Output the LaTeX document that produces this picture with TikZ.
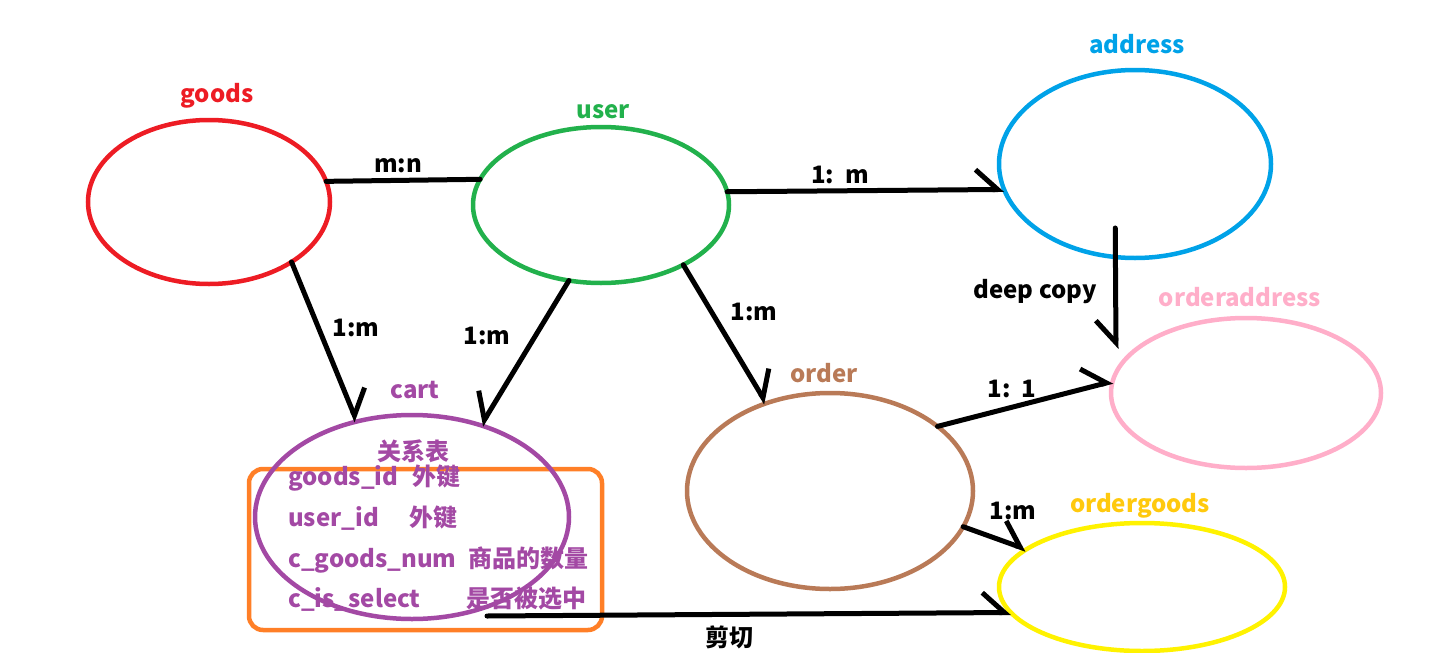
\documentclass[tikz,border=0pt]{standalone}
\usepackage{fontspec}
\setmainfont{Noto Sans CJK SC}
\usetikzlibrary{shapes.geometric, arrows.meta}
\definecolor{entred}{HTML}{ED1C24}
\definecolor{entgreen}{HTML}{22B14C}
\definecolor{entblue}{HTML}{00A2E8}
\definecolor{entpink}{HTML}{FFAEC9}
\definecolor{entbrown}{HTML}{B97A57}
\definecolor{entyellow}{HTML}{FFF200}
\definecolor{entgold}{HTML}{FFC90E}
\definecolor{entpurple}{HTML}{A349A4}
\definecolor{entorange}{HTML}{FF7F27}
\tikzset{
  entity/.style={
    ellipse,
    draw=#1,
    line width=4.5pt,
    inner sep=0pt,
    outer sep=0pt
    },
  title/.style={
    anchor=base,
    inner sep=0pt,
    text=#1,
    font=\bfseries\fontsize{24}{28}\selectfont
    },
  field/.style={
    anchor=base west,
    inner sep=0pt,
    text=entpurple,
    font=\bfseries\fontsize{24}{28}\selectfont
    },
  link/.style={line width=5pt, line cap=round},
  arrow/.style={link, line join=round,
    -{Straight Barb[harpoon, length=22pt, width=40pt]}},
  arrowr/.style={link, line join=round,
    -{Straight Barb[harpoon, swap, length=22pt, width=40pt]}}
}
\begin{document}
\begin{tikzpicture}[x=1pt, y=-1pt]
\useasboundingbox (0,0) rectangle (1430,653);
% box round the cart fields
\node (cartbox) [rectangle, rounded corners=14pt, draw=entorange, line width=4.5pt,
  minimum width=353pt, minimum height=161pt] at (425.5,549.5) {};
% entities
\node (goods) [entity=entred, minimum width=242pt, minimum height=164pt] at (209,202) {};
\node (user) [entity=entgreen, minimum width=256pt, minimum height=156pt] at (601,205) {};
\node (address) [entity=entblue, minimum width=272pt, minimum height=188pt] at (1135,164) {};
\node (orderaddress) [entity=entpink, minimum width=270pt, minimum height=150pt] at (1246,393) {};
\node (order) [entity=entbrown, minimum width=286pt, minimum height=196pt] at (830,491) {};
\node (ordergoods) [entity=entyellow, minimum width=286pt, minimum height=128pt] at (1142,587) {};
\node (cart) [entity=entpurple, minimum width=314pt, minimum height=204pt] at (412,517) {};
% entity names
\node (goodsname) [title=entred] at (217,102) {goods};
\node (username) [title=entgreen] at (603,118) {user};
\node (addressname) [title=entblue] at (1137,53) {address};
\node (oaname) [title=entpink] at (1240,306) {orderaddress};
\node (ordername) [title=entbrown] at (824,382) {order};
\node (ogname) [title=entgold] at (1140,512) {ordergoods};
\node (cartname) [title=entpurple] at (415,398) {cart};
% cart fields
\node (relname) [title=entpurple] at (413,460) {关系表};
\node (f1) [field] at (288,485) {goods\_id};
\node (f1c) [field] at (412,485) {外键};
\node (f2) [field] at (288,526) {user\_id};
\node (f2c) [field] at (409,526) {外键};
\node (f3) [field] at (288,567) {c\_goods\_num};
\node (f3c) [field] at (468,567) {商品的数量};
\node (f4) [field] at (288,607) {c\_is\_select};
\node (f4c) [field] at (466,607) {是否被选中};
% relations
\draw[link] (goods.10.6) -- (user.168.3);
\draw[arrow] (goods.324) -- (cart.120.4);
\draw[arrowr] (user.247) -- (cart.53.8);
\draw[arrow] (user.6.1) -- (address.191.3);
\draw[arrow] (user.324) -- (order.126.2);
\coordinate (copytip) at (1116,349);
\draw[arrowr] ([yshift=29pt]address.258.5) -- (copytip);
\draw[arrow] (order.31) -- (orderaddress.175.6);
\draw[arrow] (order.345.6) -- (ordergoods.162);
\draw[arrow] ([xshift=75pt,yshift=3pt]cart.south) -- (ordergoods.191.4);
% relation labels
\node (mn) [title=black] at (398,172) {m:n};
\node (gc) [title=black] at (356,336) {1:m};
\node (uc) [title=black] at (487,344) {1:m};
\node (ua) [title=black] at (840,183) {1:\ \ m};
\node (uo) [title=black] at (754,320) {1:m};
\node (copy) [title=black] at (1035,298) {deep copy};
\node (oa) [title=black] at (1012,397) {1:\ \ 1};
\node (og) [title=black] at (1013,519) {1:m};
\node (cut) [title=black] at (729,646) {剪切};
\end{tikzpicture}
\end{document}
